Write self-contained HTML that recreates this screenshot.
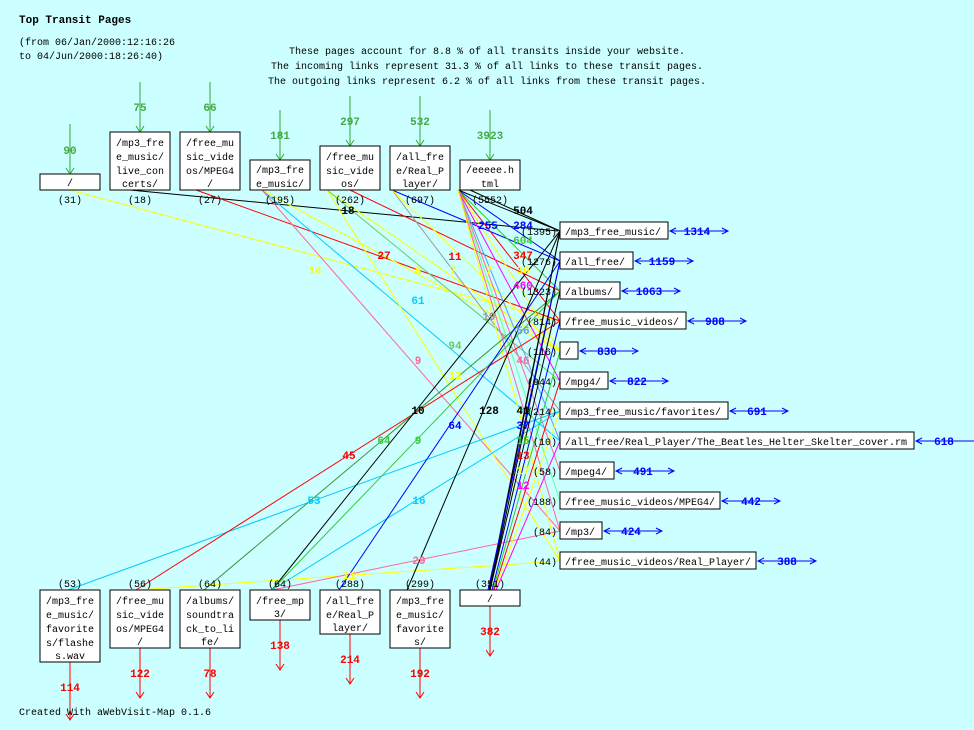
<!DOCTYPE html>
<html><head><meta charset="utf-8"><style>
html,body{margin:0;padding:0;background:#ccffff;}
svg{display:block;font-family:"Liberation Mono",monospace;}
.b{fill:#fff;stroke:#000;stroke-width:1;}
.t{font-size:10px;fill:#000;text-anchor:middle;}
.n{font-size:11px;font-weight:bold;text-anchor:middle;}
</style></head><body>
<svg width="974" height="730" viewBox="0 0 974 730" xmlns="http://www.w3.org/2000/svg">
<rect width="974" height="730" fill="#ccffff"/>
<text x="19" y="23" style="font-size:11px;font-weight:bold">Top Transit Pages</text>
<text x="19" y="45" style="font-size:10px">(from 06/Jan/2000:12:16:26</text>
<text x="19" y="59" style="font-size:10px">to 04/Jun/2000:18:26:40)</text>
<text x="487" y="54" class="t">These pages account for 8.8 % of all transits inside your website.</text>
<text x="487" y="69" class="t">The incoming links represent 31.3 % of all links to these transit pages.</text>
<text x="487" y="84" class="t">The outgoing links represent 6.2 % of all links from these transit pages.</text>

<g stroke-width="1" fill="none">
<line x1="70" y1="190" x2="560" y2="321" stroke="#ffff00"/>
<line x1="130" y1="190" x2="558" y2="231" stroke="#000"/>
<line x1="196" y1="190" x2="560" y2="321" stroke="#ff0000"/>
<line x1="262" y1="190" x2="560" y2="351" stroke="#ffff00"/>
<line x1="262" y1="190" x2="560" y2="441" stroke="#00ccff"/>
<line x1="262" y1="190" x2="560" y2="531" stroke="#ff6699"/>
<line x1="327" y1="190" x2="560" y2="351" stroke="#ffff00"/>
<line x1="327" y1="190" x2="560" y2="381" stroke="#66cc66"/>
<line x1="327" y1="190" x2="560" y2="561" stroke="#ffff00"/>
<line x1="350" y1="190" x2="560" y2="291" stroke="#ff0000"/>
<line x1="392" y1="190" x2="560" y2="261" stroke="#0000ff"/>
<line x1="392" y1="190" x2="560" y2="411" stroke="#999999"/>
<line x1="392" y1="190" x2="560" y2="351" stroke="#ffff00"/>
<line x1="458" y1="190" x2="560" y2="231" stroke="#000"/>
<line x1="458" y1="190" x2="560" y2="261" stroke="#0000ff"/>
<line x1="458" y1="190" x2="560" y2="291" stroke="#33cc33"/>
<line x1="458" y1="190" x2="560" y2="321" stroke="#ff0000"/>
<line x1="458" y1="190" x2="560" y2="351" stroke="#ffff00"/>
<line x1="458" y1="190" x2="560" y2="381" stroke="#ff00ff"/>
<line x1="458" y1="190" x2="560" y2="441" stroke="#6699ff"/>
<line x1="458" y1="190" x2="560" y2="471" stroke="#ff6699"/>
<line x1="458" y1="190" x2="560" y2="501" stroke="#66ff99"/>
<line x1="458" y1="190" x2="560" y2="531" stroke="#ff6699"/>
<line x1="458" y1="190" x2="560" y2="561" stroke="#ffff00"/>
<line x1="470" y1="190" x2="560" y2="231" stroke="#000"/>
<line x1="68" y1="590" x2="560" y2="411" stroke="#00ccff"/>
<line x1="136" y1="590" x2="560" y2="321" stroke="#ff0000"/>
<line x1="136" y1="590" x2="560" y2="561" stroke="#ffff00"/>
<line x1="204" y1="590" x2="560" y2="291" stroke="#339933"/>
<line x1="272" y1="590" x2="560" y2="231" stroke="#000"/>
<line x1="272" y1="590" x2="560" y2="291" stroke="#33cc33"/>
<line x1="272" y1="590" x2="560" y2="411" stroke="#00ccff"/>
<line x1="272" y1="590" x2="560" y2="531" stroke="#ff6699"/>
<line x1="339" y1="590" x2="560" y2="261" stroke="#0000ff"/>
<line x1="407" y1="590" x2="560" y2="231" stroke="#000"/>
<line x1="490" y1="590" x2="560" y2="231" stroke="#000"/>
<line x1="490" y1="590" x2="560" y2="261" stroke="#000"/>
<line x1="490" y1="590" x2="560" y2="291" stroke="#000"/>
<line x1="492" y1="590" x2="560" y2="321" stroke="#0000ff"/>
<line x1="493" y1="590" x2="560" y2="351" stroke="#33cc33"/>
<line x1="494" y1="590" x2="560" y2="381" stroke="#ff0000"/>
<line x1="495" y1="590" x2="560" y2="411" stroke="#ffff00"/>
<line x1="496" y1="590" x2="560" y2="441" stroke="#ff00ff"/>
<line x1="489" y1="590" x2="560" y2="231" stroke="#000"/>
<line x1="488" y1="590" x2="560" y2="261" stroke="#0000ff"/>
</g>
<g class="n">
<text x="348" y="214" fill="#000">18</text>
<text x="315" y="274" fill="#ffff00">14</text>
<text x="384" y="259" fill="#ff0000">27</text>
<text x="418" y="274" fill="#ffff00">8</text>
<text x="453" y="274" fill="#ffff00">7</text>
<text x="455" y="260" fill="#ff0000">11</text>
<text x="489" y="274" fill="#ffff00">7</text>
<text x="418" y="304" fill="#00ccff">61</text>
<text x="489" y="320" fill="#999999">19</text>
<text x="418" y="364" fill="#ff6699">9</text>
<text x="455" y="349" fill="#66cc66">94</text>
<text x="455" y="379" fill="#ffff00">12</text>
<text x="488" y="229" fill="#0000ff">255</text>
<text x="523" y="214" fill="#000">504</text>
<text x="523" y="229" fill="#0000ff">284</text>
<text x="523" y="244" fill="#33cc33">604</text>
<text x="523" y="259" fill="#ff0000">347</text>
<text x="523" y="274" fill="#ffff00">30</text>
<text x="523" y="289" fill="#ff00ff">460</text>
<text x="523" y="334" fill="#6699ff">56</text>
<text x="523" y="364" fill="#ff6699">46</text>
<text x="418" y="414" fill="#000">10</text>
<text x="489" y="414" fill="#000">128</text>
<text x="523" y="414" fill="#000">41</text>
<text x="523" y="429" fill="#0000ff">37</text>
<text x="349" y="459" fill="#ff0000">45</text>
<text x="384" y="444" fill="#33cc33">64</text>
<text x="418" y="444" fill="#33cc33">9</text>
<text x="455" y="429" fill="#0000ff">64</text>
<text x="523" y="444" fill="#33cc33">15</text>
<text x="523" y="459" fill="#ff0000">13</text>
<text x="523" y="474" fill="#ffff00">17</text>
<text x="523" y="489" fill="#ff00ff">12</text>
<text x="314" y="504" fill="#00ccff">53</text>
<text x="419" y="504" fill="#00ccff">16</text>
<text x="419" y="564" fill="#ff6699">29</text>
<text x="349" y="579" fill="#ffff00">11</text>
</g>

<g stroke="#33aa33" fill="none">
<line x1="70" y1="124" x2="70" y2="174"/><polyline points="66,168 70,174 74,168"/>
<line x1="140" y1="82" x2="140" y2="132"/><polyline points="136,126 140,132 144,126"/>
<line x1="210" y1="82" x2="210" y2="132"/><polyline points="206,126 210,132 214,126"/>
<line x1="280" y1="110" x2="280" y2="160"/><polyline points="276,154 280,160 284,154"/>
<line x1="350" y1="96" x2="350" y2="146"/><polyline points="346,140 350,146 354,140"/>
<line x1="420" y1="96" x2="420" y2="146"/><polyline points="416,140 420,146 424,140"/>
<line x1="490" y1="110" x2="490" y2="160"/><polyline points="486,154 490,160 494,154"/>
</g>
<g class="n" fill="#44aa44">
<text x="70" y="154">90</text><text x="140" y="111">75</text><text x="210" y="111">66</text>
<text x="280" y="139">181</text><text x="350" y="125">297</text><text x="420" y="125">532</text><text x="490" y="139">3923</text>
</g>
<rect class="b" x="40" y="174" width="60" height="16"/><text class="t" x="70" y="186">/</text>
<rect class="b" x="110" y="132" width="60" height="58"/><text class="t" x="140" y="146">/mp3_fre</text><text class="t" x="140" y="160">e_music/</text><text class="t" x="140" y="174">live_con</text><text class="t" x="140" y="187">certs/</text>
<rect class="b" x="180" y="132" width="60" height="58"/><text class="t" x="210" y="146">/free_mu</text><text class="t" x="210" y="160">sic_vide</text><text class="t" x="210" y="174">os/MPEG4</text><text class="t" x="210" y="187">/</text>
<rect class="b" x="250" y="160" width="60" height="30"/><text class="t" x="280" y="173">/mp3_fre</text><text class="t" x="280" y="187">e_music/</text>
<rect class="b" x="320" y="146" width="60" height="44"/><text class="t" x="350" y="160">/free_mu</text><text class="t" x="350" y="174">sic_vide</text><text class="t" x="350" y="187">os/</text>
<rect class="b" x="390" y="146" width="60" height="44"/><text class="t" x="420" y="160">/all_fre</text><text class="t" x="420" y="174">e/Real_P</text><text class="t" x="420" y="187">layer/</text>
<rect class="b" x="460" y="160" width="60" height="30"/><text class="t" x="490" y="173">/eeeee.h</text><text class="t" x="490" y="187">tml</text>
<g class="t"><text x="70" y="203">(31)</text><text x="140" y="203">(18)</text><text x="210" y="203">(27)</text><text x="280" y="203">(195)</text><text x="350" y="203">(262)</text><text x="420" y="203">(697)</text><text x="490" y="203">(5552)</text></g>

<g class="b">
<rect x="560" y="222" width="108" height="17"/><rect x="560" y="252" width="73" height="17"/>
<rect x="560" y="282" width="60" height="17"/><rect x="560" y="312" width="126" height="17"/>
<rect x="560" y="342" width="18" height="17"/><rect x="560" y="372" width="48" height="17"/>
<rect x="560" y="402" width="168" height="17"/><rect x="560" y="432" width="354" height="17"/>
<rect x="560" y="462" width="54" height="17"/><rect x="560" y="492" width="160" height="17"/>
<rect x="560" y="522" width="42" height="17"/><rect x="560" y="552" width="196" height="17"/>
</g>
<g style="font-size:10px" fill="#000">
<text x="565" y="235">/mp3_free_music/</text><text x="565" y="265">/all_free/</text>
<text x="565" y="295">/albums/</text><text x="565" y="325">/free_music_videos/</text>
<text x="565" y="355">/</text><text x="565" y="385">/mpg4/</text>
<text x="565" y="415">/mp3_free_music/favorites/</text><text x="565" y="445">/all_free/Real_Player/The_Beatles_Helter_Skelter_cover.rm</text>
<text x="565" y="475">/mpeg4/</text><text x="565" y="505">/free_music_videos/MPEG4/</text>
<text x="565" y="535">/mp3/</text><text x="565" y="565">/free_music_videos/Real_Player/</text>
</g>
<g style="font-size:10px;text-anchor:end" fill="#000">
<text x="557" y="235">(1395)</text><text x="557" y="265">(1276)</text><text x="557" y="295">(1323)</text><text x="557" y="325">(814)</text>
<text x="557" y="355">(116)</text><text x="557" y="385">(944)</text><text x="557" y="415">(214)</text><text x="557" y="445">(10)</text>
<text x="557" y="475">(58)</text><text x="557" y="505">(188)</text><text x="557" y="535">(84)</text><text x="557" y="565">(44)</text>
</g>
<g stroke="#0000ff" fill="none">
<path d="M670 231H728M676 228L670 231L676 234M722 228L728 231L722 234"/>
<path d="M635 261H693M641 258L635 261L641 264M687 258L693 261L687 264"/>
<path d="M622 291H680M628 288L622 291L628 294M674 288L680 291L674 294"/>
<path d="M688 321H746M694 318L688 321L694 324M740 318L746 321L740 324"/>
<path d="M580 351H638M586 348L580 351L586 354M632 348L638 351L632 354"/>
<path d="M610 381H668M616 378L610 381L616 384M662 378L668 381L662 384"/>
<path d="M730 411H788M736 408L730 411L736 414M782 408L788 411L782 414"/>
<path d="M916 441H974M922 438L916 441L922 444"/>
<path d="M616 471H674M622 468L616 471L622 474M668 468L674 471L668 474"/>
<path d="M722 501H780M728 498L722 501L728 504M774 498L780 501L774 504"/>
<path d="M604 531H662M610 528L604 531L610 534M656 528L662 531L656 534"/>
<path d="M758 561H816M764 558L758 561L764 564M810 558L816 561L810 564"/>
</g>
<g class="n" fill="#0000ff">
<text x="697" y="235">1314</text><text x="662" y="265">1159</text><text x="649" y="295">1063</text><text x="715" y="325">988</text>
<text x="607" y="355">830</text><text x="637" y="385">822</text><text x="757" y="415">691</text><text x="944" y="445">618</text>
<text x="643" y="475">491</text><text x="751" y="505">442</text><text x="631" y="535">424</text><text x="787" y="565">388</text>
</g>

<g class="t"><text x="70" y="587">(53)</text><text x="140" y="587">(56)</text><text x="210" y="587">(64)</text><text x="280" y="587">(64)</text><text x="350" y="587">(288)</text><text x="420" y="587">(299)</text><text x="490" y="587">(351)</text></g>
<g stroke="#ff0000" fill="none">
<path d="M70 662V720M66 714L70 720L74 714"/>
<path d="M140 648V698M136 692L140 698L144 692"/>
<path d="M210 648V698M206 692L210 698L214 692"/>
<path d="M280 620V670M276 664L280 670L284 664"/>
<path d="M350 634V684M346 678L350 684L354 678"/>
<path d="M420 648V698M416 692L420 698L424 692"/>
<path d="M490 606V656M486 650L490 656L494 650"/>
</g>
<g class="n" fill="#ff0000">
<text x="70" y="691">114</text><text x="140" y="677">122</text><text x="210" y="677">78</text><text x="280" y="649">138</text>
<text x="350" y="663">214</text><text x="420" y="677">192</text><text x="490" y="635">382</text>
</g>
<rect class="b" x="40" y="590" width="60" height="72"/><text class="t" x="70" y="604">/mp3_fre</text><text class="t" x="70" y="618">e_music/</text><text class="t" x="70" y="632">favorite</text><text class="t" x="70" y="646">s/flashe</text><text class="t" x="70" y="659">s.wav</text>
<rect class="b" x="110" y="590" width="60" height="58"/><text class="t" x="140" y="604">/free_mu</text><text class="t" x="140" y="618">sic_vide</text><text class="t" x="140" y="632">os/MPEG4</text><text class="t" x="140" y="645">/</text>
<rect class="b" x="180" y="590" width="60" height="58"/><text class="t" x="210" y="604">/albums/</text><text class="t" x="210" y="618">soundtra</text><text class="t" x="210" y="632">ck_to_li</text><text class="t" x="210" y="645">fe/</text>
<rect class="b" x="250" y="590" width="60" height="30"/><text class="t" x="280" y="604">/free_mp</text><text class="t" x="280" y="617">3/</text>
<rect class="b" x="320" y="590" width="60" height="44"/><text class="t" x="350" y="604">/all_fre</text><text class="t" x="350" y="618">e/Real_P</text><text class="t" x="350" y="631">layer/</text>
<rect class="b" x="390" y="590" width="60" height="58"/><text class="t" x="420" y="604">/mp3_fre</text><text class="t" x="420" y="618">e_music/</text><text class="t" x="420" y="632">favorite</text><text class="t" x="420" y="645">s/</text>
<rect class="b" x="460" y="590" width="60" height="16"/><text class="t" x="490" y="602">/</text>
<text x="19" y="715" style="font-size:10px">Created With aWebVisit-Map 0.1.6</text>
</svg>
</body></html>
